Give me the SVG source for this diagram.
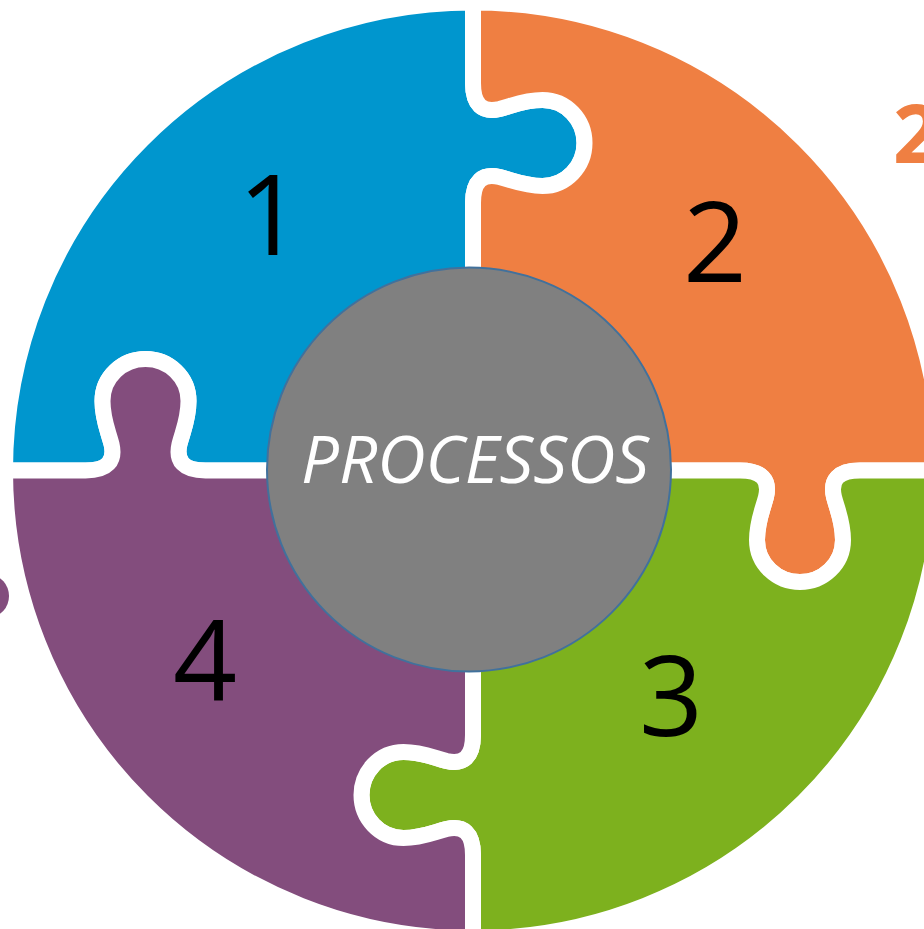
<svg xmlns="http://www.w3.org/2000/svg" width="924" height="929" viewBox="0 0 924 929">
<style>
.piece{stroke:#FFFFFF;stroke-width:16;stroke-linejoin:round}
.num{font-family:"Open Sans","Liberation Sans",sans-serif;font-size:112px;fill:#000000;text-anchor:middle}
</style>
<rect width="924" height="929" fill="#FFFFFF"/>
<g id="piece-1">
<path class="piece" fill="#0096CE" d="M 473 2.5 L 473 83 C 473 105 482.5 113 499.5 109 C 514.5 105 524.5 100 542.5 100 C 566.5 100 584.5 120 584.5 143 C 584.5 166 566.5 186 542.5 186 C 524.5 186 514.5 181 499.5 177 C 482.5 173 473 181 473 203 L 473 470.5 L 205.5 470.5 C 183.5 470.5 175.5 461 179.5 444 C 183.5 429 188.5 419 188.5 401 C 188.5 377 168.5 359 145.5 359 C 122.5 359 102.5 377 102.5 401 C 102.5 419 107.5 429 111.5 444 C 115.5 461 107.5 470.5 85.5 470.5 L 5 470.5 A 468 468 0 0 1 473 2.5 Z"/>
<text class="num" x="270" y="255">1</text>
</g>
<g id="piece-2">
<path class="piece" fill="#EF7F42" d="M 473 2.5 A 468 468 0 0 1 941 470.5 L 860 470.5 C 838 470.5 830 480 834 497 C 838 512 843 522 843 540 C 843 564 823 582 800 582 C 777 582 757 564 757 540 C 757 522 762 512 766 497 C 770 480 762 470.5 740 470.5 L 473 470.5 L 473 203 C 473 181 482.5 173 499.5 177 C 514.5 181 524.5 186 542.5 186 C 566.5 186 584.5 166 584.5 143 C 584.5 120 566.5 100 542.5 100 C 524.5 100 514.5 105 499.5 109 C 482.5 113 473 105 473 83 Z"/>
<text class="num" x="715" y="282">2</text>
</g>
<g id="piece-3">
<path class="piece" fill="#7DB11E" d="M 941 470.5 A 468 468 0 0 1 473 938.5 L 473 855 C 473 833 463.5 825 446.5 829 C 431.5 833 421.5 838 403.5 838 C 379.5 838 361.5 818 361.5 795 C 361.5 772 379.5 752 403.5 752 C 421.5 752 431.5 757 446.5 761 C 463.5 765 473 757 473 735 L 473 470.5 L 740 470.5 C 762 470.5 770 480 766 497 C 762 512 757 522 757 540 C 757 564 777 582 800 582 C 823 582 843 564 843 540 C 843 522 838 512 834 497 C 830 480 838 470.5 860 470.5 Z"/>
<text class="num" x="671" y="736">3</text>
</g>
<g id="piece-4">
<path class="piece" fill="#834D7D" d="M 473 938.5 A 468 468 0 0 1 5 470.5 L 85.5 470.5 C 107.5 470.5 115.5 461 111.5 444 C 107.5 429 102.5 419 102.5 401 C 102.5 377 122.5 359 145.5 359 C 168.5 359 188.5 377 188.5 401 C 188.5 419 183.5 429 179.5 444 C 175.5 461 183.5 470.5 205.5 470.5 L 473 470.5 L 473 735 C 473 757 463.5 765 446.5 761 C 431.5 757 421.5 752 403.5 752 C 379.5 752 361.5 772 361.5 795 C 361.5 818 379.5 838 403.5 838 C 421.5 838 431.5 833 446.5 829 C 463.5 825 473 833 473 855 Z"/>
<text class="num" x="205" y="701">4</text>
</g>
<g id="center">
<circle cx="469" cy="469.5" r="202" fill="#808080" stroke="#41719C" stroke-width="2"/>
<text x="301" y="483" textLength="348" lengthAdjust="spacingAndGlyphs" font-family="'Open Sans','Liberation Sans',sans-serif" font-style="italic" font-size="65" fill="#FFFFFF">PROCESSOS</text>
</g>
<g id="fragments">
<text x="893" y="163" font-family="'Open Sans','Liberation Sans',sans-serif" font-weight="bold" font-size="81" fill="#EF7F42">2</text>
<ellipse cx="-10" cy="596" rx="19" ry="21" fill="#834D7D"/>
</g>
</svg>
